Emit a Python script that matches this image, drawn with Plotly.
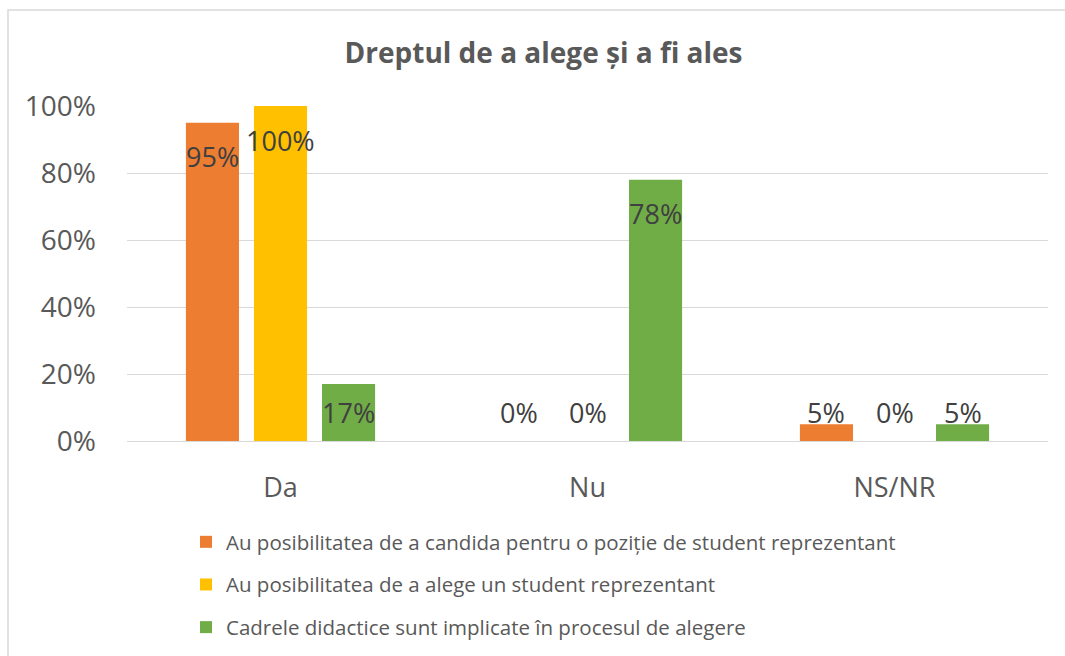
import plotly.graph_objects as go

# Data
categories = ["Da", "Nu", "NS/NR"]
series_names = [
    "Au posibilitatea de a candida pentru o poziție de student reprezentant",
    "Au posibilitatea de a alege un student reprezentant",
    "Cadrele didactice sunt implicate în procesul de alegere",
]
candida = [95, 0, 5]
alege = [100, 0, 0]
cadre = [17, 78, 5]
y_ticks = [0, 20, 40, 60, 80, 100]
y_tick_labels = ["0%", "20%", "40%", "60%", "80%", "100%"]

colors = ["#ED7D31", "#FFC000", "#70AD47"]
series_values = [candida, alege, cadre]

FONT = "Open Sans"
TEXT_GREY = "#595959"
GRID = "#D9D9D9"

# Pixel geometry of the plot area
L, R, T, B = 127, 17, 106, 215
W, H = 1065, 656
plot_w = W - L - R
plot_h = H - T - B

fig = go.Figure()
for name, vals, col in zip(series_names, series_values, colors):
    fig.add_trace(go.Bar(
        x=categories, y=vals, name=name,
        marker=dict(color=col, line=dict(width=0)),
        legendgroup=name,
        hoverinfo="skip",
    ))

# Data labels placed near the top of each bar (inside end), kept above the axis
cat_px = plot_w / len(categories)
bargap = 0.335
slot_px = cat_px * (1 - bargap) / len(series_values)
label_drop = 10.2   # in data units (~34 px)
label_floor = 8.4   # lowest label centre, data units
for j, vals in enumerate(series_values):
    for cat, v in zip(categories, vals):
        fig.add_annotation(
            x=cat, y=max(v - label_drop, label_floor),
            xref="x", yref="y",
            text=f"{v}%", showarrow=False,
            xshift=(j - 1) * slot_px,
            font=dict(family=FONT, size=27, color="#404040"),
            yanchor="middle", xanchor="center",
        )

# Chart border (left and top edges visible)
fig.add_shape(
    type="rect", xref="paper", yref="paper",
    x0=(8 - L) / plot_w, x1=(W + 20 - L) / plot_w,
    y0=-1.0, y1=(H - B - 10) / plot_h,
    line=dict(color=GRID, width=1.5), fillcolor="rgba(0,0,0,0)",
    layer="below",
)

fig.update_layout(
    width=W, height=H,
    margin=dict(l=L, r=R, t=T, b=B, autoexpand=False),
    paper_bgcolor="white", plot_bgcolor="white",
    barmode="group", bargap=bargap, bargroupgap=0.22,
    title=dict(
        text="<b>Dreptul de a alege și a fi ales</b>",
        x=543.5 / W, xanchor="center", xref="container",
        y=1 - 53 / H, yanchor="middle",
        font=dict(family=FONT, size=28, color=TEXT_GREY),
    ),
    xaxis=dict(
        showgrid=False, showline=False, zeroline=False,
        tickfont=dict(family=FONT, size=27, color=TEXT_GREY),
        ticks="", ticklabelstandoff=28,
    ),
    yaxis=dict(
        range=[0, 100], tickvals=y_ticks, ticktext=y_tick_labels,
        showgrid=True, gridcolor=GRID, gridwidth=1.3,
        zeroline=True, zerolinecolor=GRID, zerolinewidth=1.3,
        showline=False, ticks="",
        tickfont=dict(family=FONT, size=28, color=TEXT_GREY),
        ticklabelstandoff=30,
    ),
    legend=dict(
        orientation="v", x=(186 - L) / plot_w, xanchor="left",
        y=-(522 - (H - B)) / plot_h, yanchor="top",
        font=dict(family=FONT, size=20.5, color=TEXT_GREY),
        tracegroupgap=13, bgcolor="rgba(0,0,0,0)",
        traceorder="grouped",
    ),
)

fig.write_html("out.html")
